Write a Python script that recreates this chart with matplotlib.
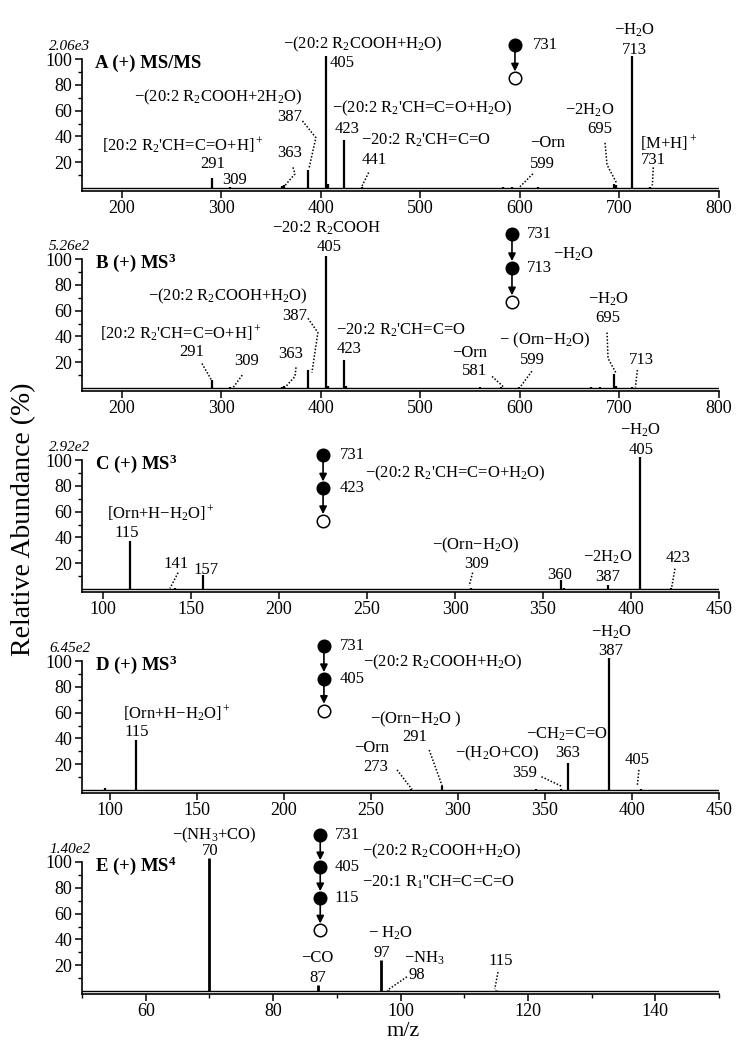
import matplotlib
matplotlib.use('Agg')
import matplotlib.pyplot as plt

plt.rcParams['font.family'] = ['Liberation Serif', 'DejaVu Serif']
plt.rcParams['mathtext.fontset'] = 'custom'
plt.rcParams['mathtext.rm'] = 'Liberation Serif'
plt.rcParams['mathtext.it'] = 'Liberation Serif:italic'
plt.rcParams['mathtext.bf'] = 'Liberation Serif:bold'
plt.rcParams['mathtext.default'] = 'regular'

# ---- peak lists (m/z, relative abundance %) ----
a_mz = [291, 309, 361, 363, 387, 405, 407, 423, 441, 583, 592, 618, 695, 697, 713, 731]
a_int = [8, 0.8, 1.5, 2.5, 14, 102, 3, 37, 1, 0.8, 1, 0.6, 3, 2, 102, 0.5]

b_mz = [291, 309, 361, 363, 387, 405, 407, 423, 425, 560, 581, 599, 671, 680, 695, 697, 713]
b_int = [6, 0.5, 1, 1.5, 14, 102, 1.5, 22, 1.5, 0.8, 0.5, 1, 0.6, 0.6, 11, 1.5, 0.5]

c_mz = [115, 141, 157, 309, 360, 362, 387, 405, 423]
c_int = [37, 0.8, 11, 0.5, 7, 1, 3, 102, 0.5]

d_mz = [97, 115, 273, 291, 345, 359, 363, 387, 405]
d_int = [1.5, 39, 0.5, 3, 0.5, 1, 21, 102, 0.5]

e_mz = [70, 87, 97, 98, 115]
e_int = [103, 4.5, 24, 1, 0.5]

scales = ['2.06e3', '5.26e2', '2.92e2', '6.45e2', '1.40e2']
titles = [r'A (+) MS/MS', r'B (+) MS$\mathbf{^3}$', r'C (+) MS$\mathbf{^3}$',
          r'D (+) MS$\mathbf{^3}$', r'E (+) MS$\mathbf{^4}$']

# ---- peak annotations: (text, x, y, ha) ----
a_labels = [
    ('−(20:2 R$_2$COOH+H$_2$O)', 442, 111, 'center'),
    ('405', 409, 97, 'left'),
    ('−(20:2 R$_2$COOH+2H$_2$O)', 297, 70, 'center'),
    ('387', 381, 55, 'right'),
    ("−(20:2 R$_2$'CH=C=O+H$_2$O)", 502, 62, 'center'),
    ('423', 426, 46, 'center'),
    ("−20:2 R$_2$'CH=C=O", 505, 37, 'center'),
    ('441', 441, 21.5, 'left'),
    ("[20:2 R$_2$'CH=C=O+H]$^+$", 261, 33, 'center'),
    ('291', 291, 19, 'center'),
    ('309', 301, 6, 'left'),
    ('363', 369, 27.5, 'center'),
    ('−H$_2$O', 715, 122, 'center'),
    ('713', 715, 107, 'center'),
    ('−2H$_2$O', 670, 60, 'center'),
    ('695', 680, 46, 'center'),
    ('−Orn', 628, 35, 'center'),
    ('599', 623, 19, 'center'),
    ('[M+H]$^+$', 721, 35, 'left'),
    ('731', 734, 21.5, 'center'),
]
a_leaders = [
    [(381.5, 52), (395, 39), (388, 15)],
    [(448, 12), (441, 1)],
    [(372, 16), (374, 11), (364, 2)],
    [(685.5, 35), (687.5, 18), (697, 4)],
    [(613, 11), (600, 1)],
    [(734, 16), (733, 2)],
]

b_labels = [
    ('−20:2 R$_2$COOH', 406, 124, 'center'),
    ('405', 408, 109, 'center'),
    ('−(20:2 R$_2$COOH+H$_2$O)', 306.5, 71, 'center'),
    ('387', 386, 56, 'right'),
    ("−20:2 R$_2$'CH=C=O", 480, 45, 'center'),
    ('423', 428, 30, 'center'),
    ("[20:2 R$_2$'CH=C=O+H]$^+$", 259.5, 42, 'center'),
    ('291', 270, 28, 'center'),
    ('309', 325, 21, 'center'),
    ('363', 370, 26, 'center'),
    ('−H$_2$O', 688.5, 69, 'center'),
    ('695', 688.5, 54, 'center'),
    ('− (Orn−H$_2$O)', 625, 37, 'center'),
    ('599', 612, 22, 'center'),
    ('−Orn', 549, 27, 'center'),
    ('581', 554, 13, 'center'),
    ('713', 722, 22, 'center'),
]
b_leaders = [
    [(387, 54), (397, 43), (391, 12)],
    [(280.5, 19), (291, 5)],
    [(321, 10), (312, 0.5)],
    [(375, 16), (374, 9), (364, 0.5)],
    [(687.5, 43), (688.5, 23), (697, 11)],
    [(612, 13), (600, 0.5)],
    [(572, 9), (584, 0.5)],
    [(718, 14), (716, 0.5)],
]

c_labels = [
    ('[Orn+H−H$_2$O]$^+$', 132.6, 58, 'center'),
    ('115', 113.6, 43.5, 'center'),
    ('141', 141.4, 19.6, 'center'),
    ('157', 158.5, 15, 'center'),
    ('−(Orn−H$_2$O)', 312, 34.2, 'center'),
    ('309', 312, 19.6, 'center'),
    ('360', 359.6, 11, 'center'),
    ('−2H$_2$O', 387, 24.2, 'center'),
    ('387', 387, 9, 'center'),
    ('−H$_2$O', 405.6, 123, 'center'),
    ('405', 405.6, 108, 'center'),
    ('423', 426.7, 24.2, 'center'),
]
c_leaders = [
    [(142.6, 12.7), (138, 0.5)],
    [(310, 12.7), (308, 2.5)],
    [(425, 15.8), (423, 0.5)],
]

d_labels = [
    ('[Orn+H−H$_2$O]$^+$', 138.5, 59, 'center'),
    ('115', 115.5, 44.7, 'center'),
    ('−Orn', 250.6, 32.4, 'center'),
    ('273', 253, 17.5, 'center'),
    ('−(Orn−H$_2$O )', 276, 55, 'center'),
    ('291', 275.4, 41, 'center'),
    ('−(H$_2$O+CO)', 322.8, 28.6, 'center'),
    ('359', 345.5, 13.4, 'right'),
    ('−CH$_2$=C=O', 362.7, 43, 'center'),
    ('363', 363.3, 28.6, 'center'),
    ('−H$_2$O', 388, 122, 'center'),
    ('387', 388, 108, 'center'),
    ('405', 403, 23.3, 'center'),
]
d_leaders = [
    [(265, 15.6), (273.6, 0.5)],
    [(283.5, 31), (291, 3)],
    [(348, 10.3), (359.9, 2.7)],
    [(404, 15.6), (403, 2.7)],
]

e_labels = [
    ('−(NH$_3$+CO)', 70.8, 121, 'center'),
    ('70', 70.2, 108.5, 'center'),
    ('−CO', 87, 25.6, 'center'),
    ('87', 87, 10, 'center'),
    ('− H$_2$O', 98.4, 45, 'center'),
    ('97', 97, 29.5, 'center'),
    ('−NH$_3$', 103.7, 25.6, 'center'),
    ('98', 101.2, 12.4, 'left'),
    ('115', 115.8, 23.3, 'center'),
]
e_leaders = [
    [(101.0, 11), (97.9, 0.5)],
    [(115.3, 14.7), (114.8, 1.5)],
]

# ---- fragmentation trees: node x, node ys (last one open), side labels ----
a_tree_x, a_tree_y = 595, [111, 85]
a_tree_txt = [('731', 613, 111)]
b_tree_x, b_tree_y = 592, [119, 93, 66.5]
b_tree_txt = [('731', 607, 119), ('−H$_2$O', 633, 104), ('713', 607, 93)]
c_tree_x, c_tree_y = 225, [104, 78, 52.7]
c_tree_txt = [('731', 234.6, 104), ("−(20:2 R$_2$'CH=C=O+H$_2$O)", 249, 89.6), ('423', 234.6, 78)]
d_tree_x, d_tree_y = 223, [112, 86, 61.5]
d_tree_txt = [('731', 232, 112), ('−(20:2 R$_2$COOH+H$_2$O)', 245.5, 99), ('405', 232, 86)]
e_tree_x, e_tree_y = 87.4, [121, 96, 72, 47]
e_tree_txt = [('731', 89.7, 121), ('−(20:2 R$_2$COOH+H$_2$O)', 94, 108), ('405', 89.7, 96),
              ("−20:1 R$_1$''CH=C=C=O", 94, 84), ('115', 89.7, 72)]

xlims = [(160, 800), (160, 800), (88, 450), (84, 450), (50, 150)]
xmajors = [range(200, 801, 100), range(200, 801, 100), range(100, 451, 50),
           range(100, 451, 50), range(60, 141, 20)]
xminors = [[], [], [], [], range(50, 151, 10)]

W, H = 741, 1050
fig = plt.figure(figsize=(W / 100, H / 100), dpi=100)
tops = [59, 259, 460, 661, 862]
axh = 131.6


def draw_panel(ax, mz, inten, xlim, xmaj, xmin, scale, title, labels, leaders,
               tx, ty, ttxt, lw):
    ax.vlines(mz, 0, inten, color='k', lw=lw, clip_on=False)
    ax.axhline(0, color='k', lw=1.0)
    ax.set_xlim(*xlim)
    ax.set_ylim(-2, 100)
    for s in ['top', 'right']:
        ax.spines[s].set_visible(False)
    ax.spines['left'].set_linewidth(1.2)
    ax.spines['bottom'].set_linewidth(1.2)
    ax.set_yticks([20, 40, 60, 80, 100])
    ax.set_yticks([10, 30, 50, 70, 90], minor=True)
    ax.set_xticks(list(xmaj))
    ax.set_xticks(list(xmin), minor=True)
    ax.tick_params(which='major', direction='out', length=5, width=1.1, labelsize=13, pad=2)
    ax.tick_params(which='minor', direction='out', length=3, width=1.0)
    ax.text(0.013, 110, scale, transform=ax.get_yaxis_transform(), ha='right',
            va='center', fontsize=11, style='italic')
    ax.text(0.02, 97, title, transform=ax.get_yaxis_transform(), ha='left',
            va='center', fontsize=13.5, fontweight='bold')
    for t, x, y, ha in labels:
        ax.text(x, y, t, ha=ha, va='center', fontsize=12)
    for pts in leaders:
        xs, ys = zip(*pts)
        ax.plot(xs, ys, ls=(0, (1, 1.2)), lw=1.1, color='k', clip_on=False)
    # fragmentation tree
    for i, y in enumerate(ty):
        last = i == len(ty) - 1
        ax.plot(tx, y, 'o', ms=9, mfc='w' if last else 'k', mec='k', mew=1.1,
                clip_on=False, zorder=5)
        if not last:
            ax.annotate('', xy=(tx, ty[i + 1]), xytext=(tx, y),
                        arrowprops=dict(arrowstyle='-|>', color='k', lw=1.2,
                                        shrinkA=4.5, shrinkB=5, mutation_scale=11),
                        annotation_clip=False)
    for t, x, y in ttxt:
        ax.text(x, y, t, ha='left', va='center', fontsize=12)


panels = [
    (a_mz, a_int, a_labels, a_leaders, a_tree_x, a_tree_y, a_tree_txt, 1.6),
    (b_mz, b_int, b_labels, b_leaders, b_tree_x, b_tree_y, b_tree_txt, 1.6),
    (c_mz, c_int, c_labels, c_leaders, c_tree_x, c_tree_y, c_tree_txt, 1.6),
    (d_mz, d_int, d_labels, d_leaders, d_tree_x, d_tree_y, d_tree_txt, 1.6),
    (e_mz, e_int, e_labels, e_leaders, e_tree_x, e_tree_y, e_tree_txt, 2.0),
]

for i, (mz, inten, labels, leaders, tx, ty, ttxt, lw) in enumerate(panels):
    ax = fig.add_axes([82 / W, 1 - (tops[i] + axh) / H, (719 - 82) / W, axh / H])
    draw_panel(ax, mz, inten, xlims[i], xmajors[i], xminors[i], scales[i], titles[i],
               labels, leaders, tx, ty, ttxt, lw)

fig.text(0.032, 0.505, 'Relative Abundance (%)', rotation=90, ha='center', va='center',
         fontsize=20)
fig.text(0.544, 0.018, 'm/z', ha='center', va='center', fontsize=16)

fig.savefig('out.png', dpi=100)
